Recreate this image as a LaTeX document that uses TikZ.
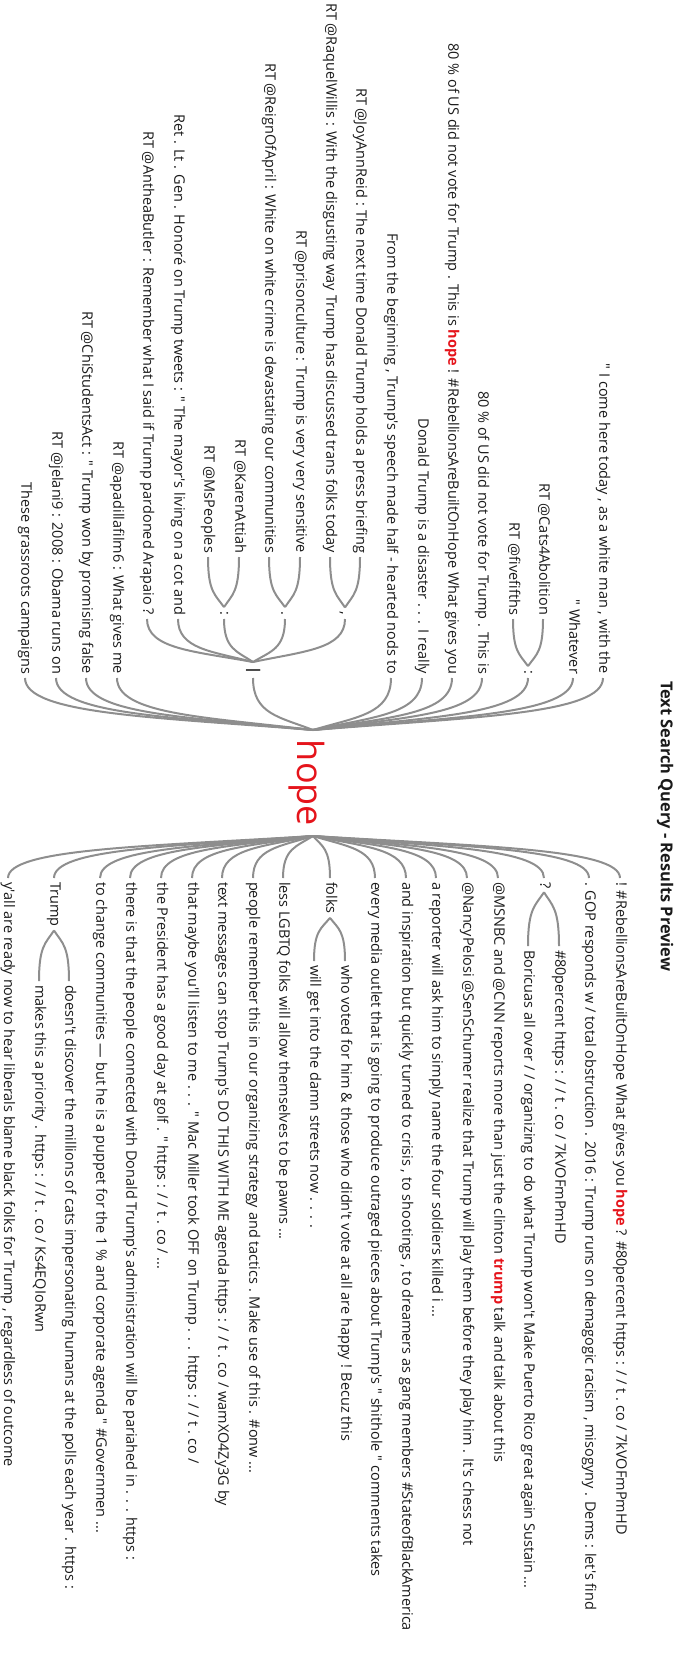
\documentclass[tikz,border=0pt]{standalone}
\usepackage{xcolor}
\usepackage{fontspec}
\setmainfont{Open Sans}[Ligatures=TeXOff]
\usepackage{tikz}
\usetikzlibrary{calc}
\definecolor{ink}{HTML}{1A1A1A}
\definecolor{twiggrey}{HTML}{8E8E8E}
\definecolor{hitred}{HTML}{E5141B}
\newcommand\qhit[1]{\textcolor{hitred}{\bfseries #1}}

\begin{document}
\begin{tikzpicture}[
  x=1pt, y=-1pt,
  word/.style={
    rotate=-90, inner xsep=4pt, inner ysep=0pt, outer sep=0pt,
    text height=11pt, text depth=3.5pt, text=ink,
    font=\fontsize{14.5}{17}\selectfont
  },
  pre/.style={word, anchor=east},
  post/.style={word, anchor=west},
  twig/.style={draw=twiggrey, line width=2pt,
    to path={let \p1=(\tikztostart), \p2=(\tikztotarget) in
      .. controls ({\x1+0.55*(\x2-\x1)},{\y1+0.25*(\y2-\y1)})
               and (\x2,{\y1+0.3*(\y2-\y1)}) .. (\tikztotarget)}
  }
]
\useasboundingbox (0,0) rectangle (678,1669);

\def\ea{678}
\def\eb{619}
\def\ec{557}
\def\sa{878}

\node[post, inner xsep=0pt, text height=, text depth=, font=\bfseries\fontsize{16.4}{19}\selectfont]
  (heading) at (665,681) {Text Search Query - Results Preview};

\node[word, inner xsep=0pt, text height=, text depth=, text=hitred,
  font=\fontsize{36}{40}\selectfont] (hope) at (307,783) {hope};
\coordinate (hl) at (313,730);
\coordinate (hr) at (313,836);

\node[pre] (l1) at (603,\ea) {" I come here today , as a white man , with the};
\node[pre] (l2) at (573,\ea) {" Whatever};
\node[pre] (l3) at (528,\ea) {:};
\node[pre] (l3a) at (543,\eb) {RT @Cats4Abolition};
\node[pre] (l3b) at (513,\eb) {RT @fivefifths};
\node[pre] (l4) at (482,\ea) {80 \% of US did not vote for Trump . This is};
\node[pre] (l5) at (452,\ea) {80 \% of US did not vote for Trump . This is \qhit{hope} ! \#RebellionsAreBuiltOnHope What gives you};
\node[pre] (l6) at (422,\ea) {Donald Trump is a disaster . . . I really};
\node[pre] (l7) at (391,\ea) {From the beginning , Trump's speech made half - hearted nods to};
\node[pre, font=\bfseries\fontsize{14.5}{17}\selectfont] (l8) at (253,\ea) {|};
\node[pre] (l8a) at (345,\eb) {,};
\node[pre] (l8b) at (285,\eb) {.};
\node[pre] (l8c) at (224,\eb) {:};
\node[pre] (l8d) at (178,\eb) {Ret . Lt . Gen . Honoré on Trump tweets : " The mayor's living on a cot and};
\node[pre] (l8e) at (147,\eb) {RT @AntheaButler : Remember what I said if Trump pardoned Arapaio ?};
\node[pre] (l9a) at (360,\ec) {RT @JoyAnnReid : The next time Donald Trump holds a press briefing};
\node[pre] (l9b) at (330,\ec) {RT @RaquelWillis : With the disgusting way Trump has discussed trans folks today};
\node[pre] (l9c) at (300,\ec) {RT @prisonculture : Trump is very very sensitive};
\node[pre] (l9d) at (269,\ec) {RT @ReignOfApril : White on white crime is devastating our communities};
\node[pre] (l9e) at (239,\ec) {RT @KarenAttiah};
\node[pre] (l9f) at (208,\ec) {RT @MsPeoples};
\node[pre] (l10) at (117,\ea) {RT @apadillafilm6 : What gives me};
\node[pre] (l11) at (86,\ea) {RT @ChiStudentsAct : " Trump won by promising false};
\node[pre] (l12) at (56,\ea) {RT @jelani9 : 2008 : Obama runs on};
\node[pre] (l13) at (25,\ea) {These grassroots campaigns};

\node[post] (r1) at (620,\sa) {! \#RebellionsAreBuiltOnHope What gives you \qhit{hope} ? \#80percent https : / / t . co / 7kVOFmPmHD};
\node[post] (r2) at (589,\sa) {. GOP responds w / total obstruction . 2016 : Trump runs on demagogic racism , misogyny . Dems : let's find};
\node[post] (r3) at (544,\sa) {?};
\node[post] (r3a) at (559,946) {\#80percent https : / / t . co / 7kVOFmPmHD};
\node[post] (r3b) at (528,946) {Boricuas all over / / organizing to do what Trump won't Make Puerto Rico great again Sustain ...};
\node[post] (r4) at (498,\sa) {@MSNBC and @CNN reports more than just the clinton \qhit{trump} talk and talk about this};
\node[post] (r5) at (467,\sa) {@NancyPelosi @SenSchumer realize that Trump will play them before they play him . It's chess not};
\node[post] (r6) at (436,\sa) {a reporter will ask him to simply name the four soldiers killed i ...};
\node[post] (r7) at (406,\sa) {and inspiration but quickly turned to crisis , to shootings , to dreamers as gang members \#StateofBlackAmerica};
\node[post] (r8) at (375,\sa) {every media outlet that is going to produce outraged pieces about Trump's " shithole " comments takes};
\node[post] (r9) at (330,\sa) {folks};
\node[post] (r9a) at (345,961) {who voted for him \& those who didn't vote at all are happy ! Becuz this};
\node[post] (r9b) at (314,961) {will get into the damn streets now . . . .};
\node[post] (r10) at (283,\sa) {less LGBTQ folks will allow themselves to be pawns ...};
\node[post] (r11) at (253,\sa) {people remember this in our organizing strategy and tactics . Make use of this . \#onw ...};
\node[post] (r12) at (222,\sa) {text messages can stop Trump's DO THIS WITH ME agenda https : / / t . co / wamXO4Zy3G by};
\node[post] (r13) at (192,\sa) {that maybe you'll listen to me . . . " Mac Miller took OFF on Trump . . . https : / / t . co /};
\node[post] (r14) at (161,\sa) {the President has a good day at golf . " https : / / t . co / ...};
\node[post] (r15) at (130,\sa) {there is that the people connected with Donald Trump's administration will be pariahed in . . . https :};
\node[post] (r16) at (100,\sa) {to change communities — but he is a puppet for the 1 \% and corporate agenda " \#Governmen ...};
\node[post] (r17) at (54,\sa) {Trump};
\node[post] (r17a) at (69,981) {doesn't discover the millions of cats impersonating humans at the polls each year . https :};
\node[post] (r17b) at (39,981) {makes this a priority . https : / / t . co / Ks4EQIoRwn};
\node[post] (r18) at (8,\sa) {y'all are ready now to hear liberals blame black folks for Trump , regardless of outcome};

\draw[twig] (hl) to (l1.east);
\draw[twig] (hl) to (l2.east);
\draw[twig] (hl) to (l3.east);
\draw[twig] (hl) to (l4.east);
\draw[twig] (hl) to (l5.east);
\draw[twig] (hl) to (l6.east);
\draw[twig] (hl) to (l7.east);
\draw[twig] (hl) to (l8.east);
\draw[twig] (hl) to (l10.east);
\draw[twig] (hl) to (l11.east);
\draw[twig] (hl) to (l12.east);
\draw[twig] (hl) to (l13.east);
\draw[twig] (l3.west) to (l3a.east);
\draw[twig] (l3.west) to (l3b.east);
\draw[twig] (l8.west) to (l8a.east);
\draw[twig] (l8.west) to (l8b.east);
\draw[twig] (l8.west) to (l8c.east);
\draw[twig] (l8.west) to (l8d.east);
\draw[twig] (l8.west) to (l8e.east);
\draw[twig] (l8a.west) to (l9a.east);
\draw[twig] (l8a.west) to (l9b.east);
\draw[twig] (l8b.west) to (l9c.east);
\draw[twig] (l8b.west) to (l9d.east);
\draw[twig] (l8c.west) to (l9e.east);
\draw[twig] (l8c.west) to (l9f.east);

\draw[twig] (hr) to (r1.west);
\draw[twig] (hr) to (r2.west);
\draw[twig] (hr) to (r3.west);
\draw[twig] (hr) to (r4.west);
\draw[twig] (hr) to (r5.west);
\draw[twig] (hr) to (r6.west);
\draw[twig] (hr) to (r7.west);
\draw[twig] (hr) to (r8.west);
\draw[twig] (hr) to (r9.west);
\draw[twig] (hr) to (r10.west);
\draw[twig] (hr) to (r11.west);
\draw[twig] (hr) to (r12.west);
\draw[twig] (hr) to (r13.west);
\draw[twig] (hr) to (r14.west);
\draw[twig] (hr) to (r15.west);
\draw[twig] (hr) to (r16.west);
\draw[twig] (hr) to (r17.west);
\draw[twig] (hr) to (r18.west);
\draw[twig] (r3.east) to (r3a.west);
\draw[twig] (r3.east) to (r3b.west);
\draw[twig] (r9.east) to (r9a.west);
\draw[twig] (r9.east) to (r9b.west);
\draw[twig] (r17.east) to (r17a.west);
\draw[twig] (r17.east) to (r17b.west);

\end{tikzpicture}
\end{document}
